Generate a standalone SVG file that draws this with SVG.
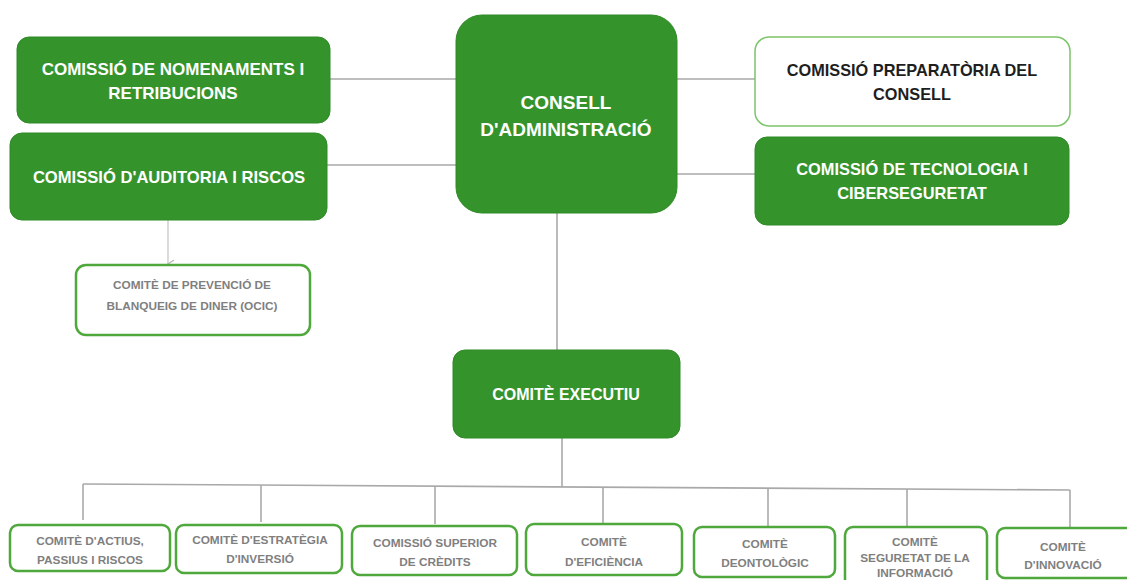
<svg xmlns="http://www.w3.org/2000/svg" width="1127" height="580" viewBox="0 0 1127 580">
<style>
.g{fill:#35932b;stroke:#2f8a26;stroke-width:1}
.w{fill:#fff;stroke:#7cc46a;stroke-width:1.5}
.b{fill:#fff;stroke:#4fa83c;stroke-width:2.5}
.tw{fill:#fff;font-family:"Liberation Sans",Arial,sans-serif;font-weight:bold;text-anchor:middle}
.td{fill:#1e1e1e;font-family:"Liberation Sans",Arial,sans-serif;font-weight:bold;text-anchor:middle;font-size:16.3px}
.ts{fill:#7f7f7f;font-family:"Liberation Sans",Arial,sans-serif;font-weight:bold;text-anchor:middle;font-size:11.8px}
.c{stroke:#a9a9a9;stroke-width:1.6;fill:none}
</style>
<defs>
<marker id="ar" markerWidth="10" markerHeight="10" refX="5" refY="8" orient="auto" markerUnits="userSpaceOnUse">
<path d="M1,2 L5,8 L9,2" fill="none" stroke="#b5b5b5" stroke-width="1.2"/>
</marker>
</defs>
<g id="connectors">
<line class="c" x1="330" y1="79" x2="456" y2="79"/>
<line class="c" x1="327" y1="165" x2="456" y2="165"/>
<line class="c" x1="677" y1="79" x2="755" y2="79"/>
<line class="c" x1="677" y1="174" x2="755" y2="174"/>
<line class="c" x1="557" y1="213" x2="557" y2="350"/>
<line x1="168" y1="220" x2="168" y2="264" stroke="#c4c4c4" stroke-width="1.2" marker-end="url(#ar)"/>
<line class="c" x1="562" y1="438" x2="562" y2="487"/>
<line class="c" x1="83" y1="484" x2="1070" y2="490"/>
<line class="c" x1="83" y1="484" x2="83" y2="520"/>
<line class="c" x1="261" y1="485" x2="261" y2="522"/>
<line class="c" x1="435" y1="486" x2="435" y2="524"/>
<line class="c" x1="603" y1="487" x2="603" y2="523"/>
<line class="c" x1="768" y1="488" x2="768" y2="526"/>
<line class="c" x1="907" y1="489" x2="907" y2="526"/>
<line class="c" x1="1070" y1="490" x2="1070" y2="527"/>
</g>
<g id="consell">
<rect class="g" x="456" y="15" width="221" height="198" rx="26"/>
<text class="tw" x="566" y="109" font-size="19">CONSELL</text>
<text class="tw" x="566" y="136" font-size="19">D'ADMINISTRACIÓ</text>
</g>
<g id="nomenaments">
<rect class="g" x="17" y="37" width="313" height="86" rx="12"/>
<text class="tw" x="173" y="75" font-size="17">COMISSIÓ DE NOMENAMENTS I</text>
<text class="tw" x="173" y="99" font-size="17">RETRIBUCIONS</text>
</g>
<g id="auditoria">
<rect class="g" x="10" y="133" width="317" height="87" rx="12"/>
<text class="tw" x="169" y="183" font-size="16.6">COMISSIÓ D'AUDITORIA I RISCOS</text>
</g>
<g id="preparatoria">
<rect class="w" x="755" y="37" width="315" height="89" rx="14"/>
<text class="td" x="912" y="76">COMISSIÓ PREPARATÒRIA DEL</text>
<text class="td" x="912" y="100">CONSELL</text>
</g>
<g id="tecnologia">
<rect class="g" x="755" y="137" width="314" height="88" rx="12"/>
<text class="tw" x="912" y="175" font-size="16.4">COMISSIÓ DE TECNOLOGIA I</text>
<text class="tw" x="912" y="199" font-size="16.4">CIBERSEGURETAT</text>
</g>
<g id="prevencio">
<rect class="b" x="76" y="265" width="234" height="70" rx="10" stroke-width="2"/>
<text class="ts" x="192" y="289">COMITÈ DE PREVENCIÓ DE</text>
<text class="ts" x="192" y="310">BLANQUEIG DE DINER (OCIC)</text>
</g>
<g id="executiu">
<rect class="g" x="453" y="350" width="227" height="88" rx="12"/>
<text class="tw" x="566" y="400" font-size="16">COMITÈ EXECUTIU</text>
</g>
<g id="actius">
<rect class="b" x="10" y="525" width="160" height="46" rx="8"/>
<text class="ts" x="90" y="545">COMITÈ D'ACTIUS,</text>
<text class="ts" x="90" y="564">PASSIUS I RISCOS</text>
</g>
<g id="estrategia">
<rect class="b" x="176" y="525" width="166" height="48" rx="8"/>
<text class="ts" x="260" y="544">COMITÈ D'ESTRATÈGIA</text>
<text class="ts" x="260" y="563">D'INVERSIÓ</text>
</g>
<g id="credits">
<rect class="b" x="352" y="526" width="165" height="49" rx="8"/>
<text class="ts" x="435" y="547">COMISSIÓ SUPERIOR</text>
<text class="ts" x="435" y="566">DE CRÈDITS</text>
</g>
<g id="eficiencia">
<rect class="b" x="526" y="524" width="156" height="51" rx="8"/>
<text class="ts" x="604" y="546">COMITÈ</text>
<text class="ts" x="604" y="566">D'EFICIÈNCIA</text>
</g>
<g id="deontologic">
<rect class="b" x="694" y="527" width="141" height="50" rx="8"/>
<text class="ts" x="765" y="548">COMITÈ</text>
<text class="ts" x="765" y="567">DEONTOLÒGIC</text>
</g>
<g id="seguretat">
<rect class="b" x="845" y="527" width="142" height="60" rx="8"/>
<text class="ts" x="915" y="546">COMITÈ</text>
<text class="ts" x="915" y="562">SEGURETAT DE LA</text>
<text class="ts" x="915" y="577">INFORMACIÓ</text>
</g>
<g id="innovacio">
<rect class="b" x="997" y="528" width="140" height="50" rx="8"/>
<text class="ts" x="1063" y="551">COMITÈ</text>
<text class="ts" x="1063" y="569">D'INNOVACIÓ</text>
</g>
</svg>
